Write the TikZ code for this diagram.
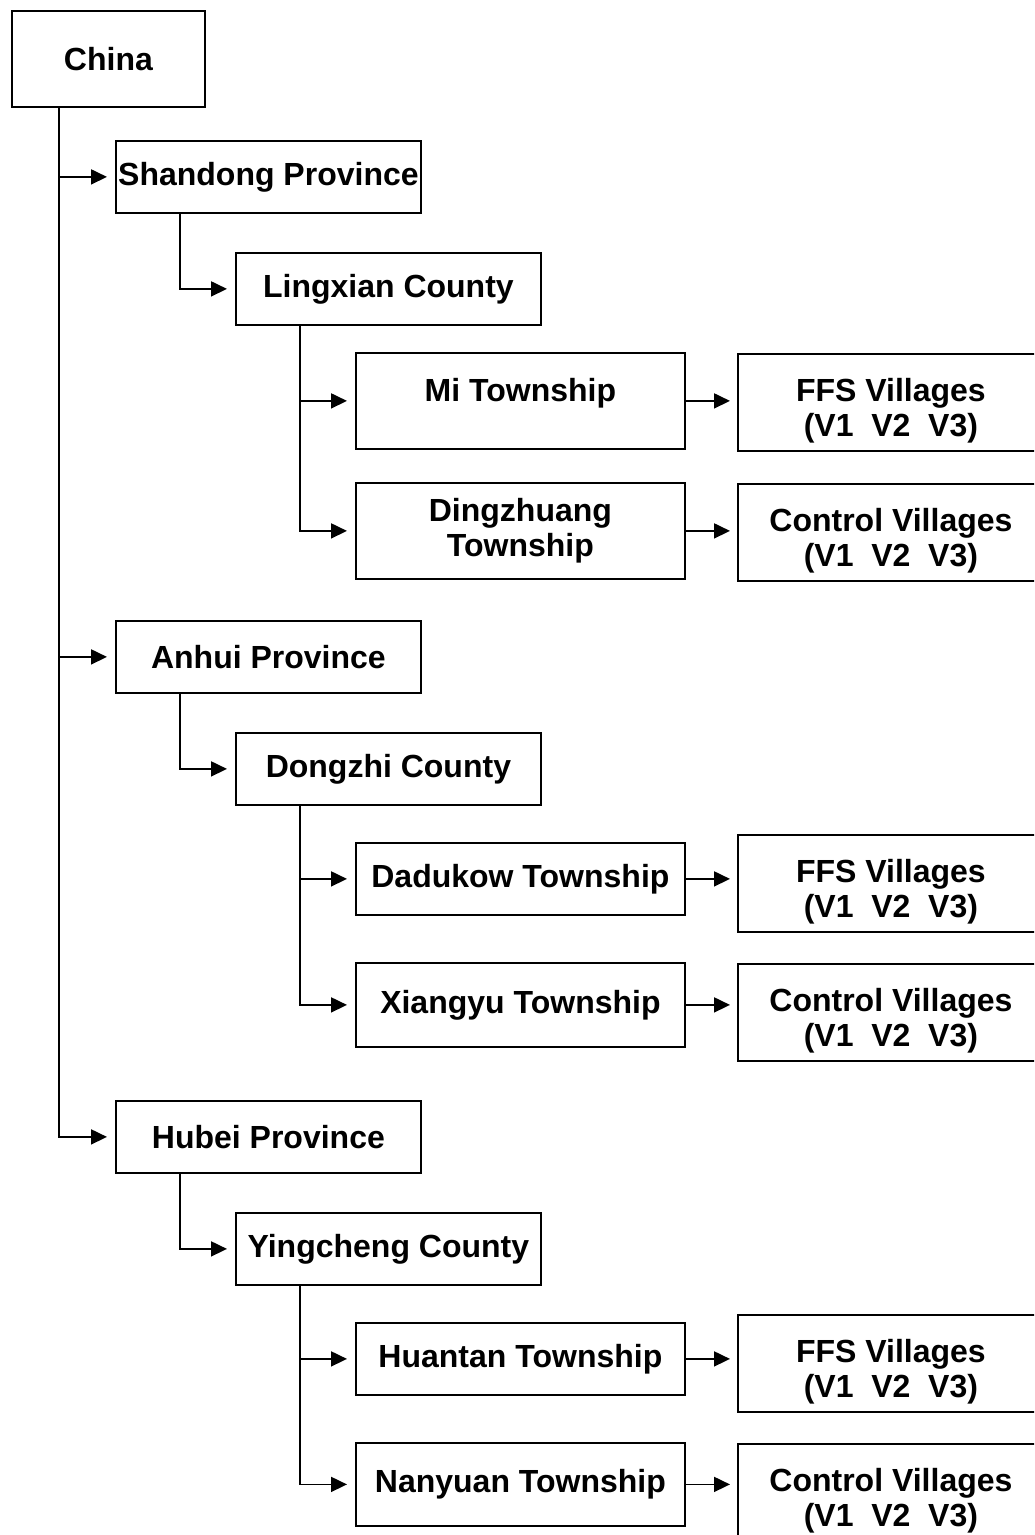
\documentclass[tikz,border=0pt]{standalone}
\usepackage{fontspec}
\setmainfont{Liberation Sans}
\usetikzlibrary{arrows.meta,calc}
\tikzset{
  unit/.style={draw,line width=0.9pt,inner sep=1pt,align=center,anchor=north west,
    font=\bfseries\fontsize{16}{17.5}\selectfont},
  prov/.style={unit,minimum width=152.5pt,minimum height=36pt},
  town/.style={unit,minimum width=164.5pt},
  vill/.style={unit,minimum width=153pt,minimum height=48.5pt,text height=37.5pt},
  link/.style={line width=0.9pt,->,shorten >=4pt}
}
\begin{document}
\begin{tikzpicture}[x=0.5pt,y=-0.5pt,>={Triangle[length=8pt,width=7.5pt]}]
\useasboundingbox (0,0) rectangle (1034,1535);
\clip (0,0) rectangle (1034,1535);
% country
\node[unit,minimum width=96.5pt,minimum height=48pt] (china) at (11,10) {China};
% Shandong
\node[prov] (shandong) at (115,140) {Shandong Province};
\node[prov] (lingxian) at (235,252) {Lingxian County};
\node[town,minimum height=48pt] (mi) at (355,352) {Mi Township\\[-6.5pt]\mbox{}};
\node[vill] (ffsa) at (737,353) {FFS Villages\\(V1~~V2~~V3)};
\node[town,minimum height=48pt] (ding) at (355,482) {Dingzhuang\\Township};
\node[vill] (ctrla) at (737,483) {Control Villages\\(V1~~V2~~V3)};
% Anhui
\node[prov] (anhui) at (115,620) {Anhui Province};
\node[prov] (dongzhi) at (235,732) {Dongzhi County};
\node[town,minimum height=36pt] (dadu) at (355,842) {Dadukow Township};
\node[vill] (ffsb) at (737,834) {FFS Villages\\(V1~~V2~~V3)};
\node[town,minimum height=42pt] (xiang) at (355,962) {Xiangyu Township};
\node[vill] (ctrlb) at (737,963) {Control Villages\\(V1~~V2~~V3)};
% Hubei
\node[prov] (hubei) at (115,1100) {Hubei Province};
\node[prov] (ying) at (235,1212) {Yingcheng County};
\node[town,minimum height=36pt] (huan) at (355,1322) {Huantan Township};
\node[vill] (ffsc) at (737,1314) {FFS Villages\\(V1~~V2~~V3)};
\node[town,minimum height=41.5pt] (nan) at (355,1442) {Nanyuan Township};
\node[vill] (ctrlc) at (737,1443) {Control Villages\\(V1~~V2~~V3)};
% connectors
\coordinate (c0) at ($(china.south west)+(48,0)$);
\foreach \p in {shandong,anhui,hubei}\draw[link](c0)|-(\p.west);
\foreach \a/\b in {shandong/lingxian,anhui/dongzhi,hubei/ying,lingxian/mi,lingxian/ding,dongzhi/dadu,dongzhi/xiang,ying/huan,ying/nan}
  \draw[link]($(\a.south west)+(65,0)$)|-(\b.west);
\foreach \a/\b in {mi/ffsa,ding/ctrla,dadu/ffsb,xiang/ctrlb,huan/ffsc,nan/ctrlc}
  \draw[link,shorten >=3.5pt](\a.east)--(\a.east-|\b.west);
\end{tikzpicture}
\end{document}
